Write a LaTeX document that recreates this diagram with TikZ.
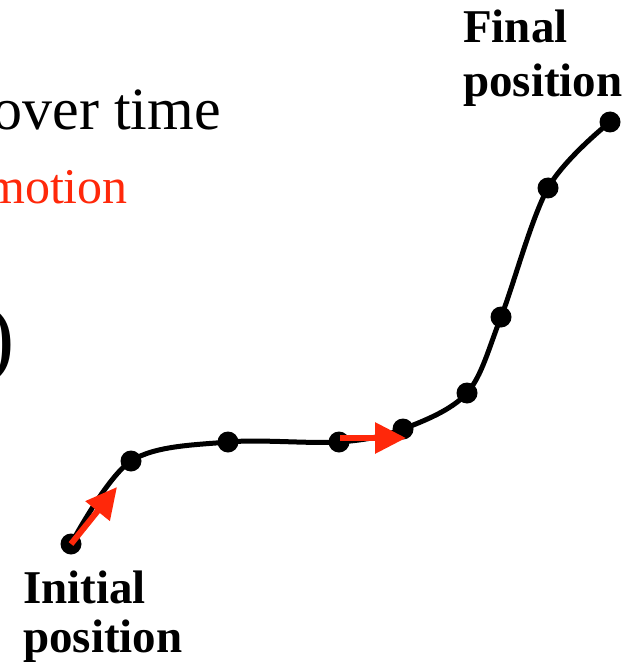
\documentclass[tikz,border=0pt]{standalone}
\usepackage{fontspec}
\setmainfont{Liberation Serif}
\usetikzlibrary{arrows.meta}
\tikzset{
  curveln/.style={line width=5pt, line cap=round, line join=round},
  dotnd/.style={circle, fill=black, inner sep=0pt, minimum size=21pt},
  motionarr/.style={-{Triangle[length=31pt,width=30pt]}, line width=6pt, draw=motionred, fill=motionred},
  poslabel/.style={font={\fontsize{47}{47}\selectfont\bfseries}, inner sep=0pt, anchor=base west},
  bigtext/.style={font={\fontsize{60}{60}\selectfont}, inner sep=0pt, anchor=base east},
}
\definecolor{motionred}{RGB}{255,40,10}

\begin{document}
\begin{tikzpicture}[x=1pt, y=-1pt]
    \useasboundingbox (0,0) rectangle (641,668);
    \clip (0,0) rectangle (641,668);
    % cut-off text on the left
    \node[bigtext] (overtime) at (221,130) {over time};
    \node[bigtext, font={\fontsize{50}{50}\selectfont}, text=motionred]
      (motion) at (128,204) {motion};
    \node[bigtext, font={\fontsize{88}{88}\selectfont}] (paren) at (15,366) {)};
    % positions along the path
    \coordinate (c0) at (71,544);
    \coordinate (c1) at (131,461);
    \coordinate (c2) at (228,442);
    \coordinate (c3) at (339,442);
    \coordinate (c4) at (403,429);
    \coordinate (c5) at (467,393);
    \coordinate (c6) at (501,317);
    \coordinate (c7) at (548,188);
    \coordinate (c8) at (610,122);
    \draw[curveln] plot[smooth, tension=0.55] coordinates
      {(c0) (c1) (c2) (c3) (c4) (c5) (c6) (c7) (c8)};
    \foreach \i in {0,...,8}
      \node[dotnd] (p\i) at (c\i) {};
    % velocity arrows
    \coordinate (s2) at (340,438);
    \coordinate (t1) at (117,487);
    \coordinate (t2) at (406,438);
    \draw[motionarr] (c0) -- (t1);
    \draw[motionarr] (s2) -- (t2);
    % labels
    \node[poslabel] (final1) at (463,43) {Final};
    \node[poslabel] (final2) at (463,97) {position};
    \node[poslabel] (init1) at (23,603) {Initial};
    \node[poslabel] (init2) at (23,652) {position};
  \end{tikzpicture}
\end{document}
